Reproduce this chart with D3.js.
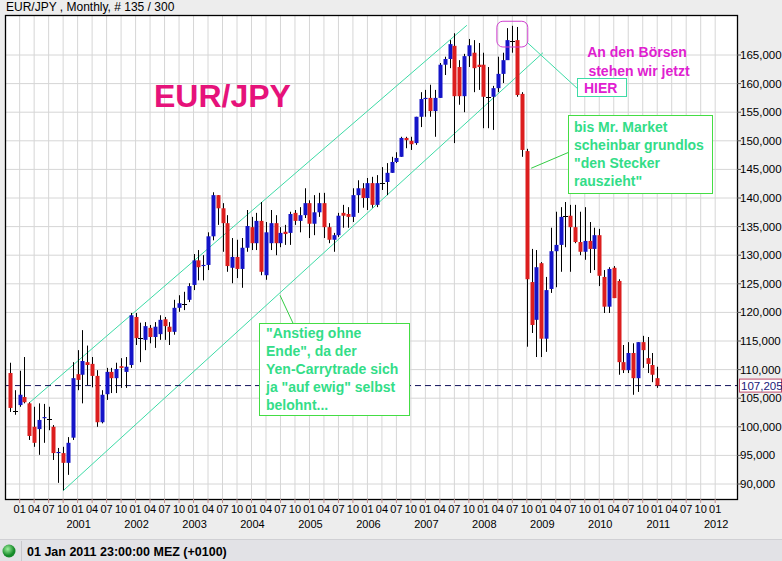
<!DOCTYPE html>
<html><head><meta charset="utf-8">
<script src="https://cdn.jsdelivr.net/npm/d3@7/dist/d3.min.js"></script>
<style>body{margin:0;background:#ececec;}svg{display:block;font-family:"Liberation Sans",Arial,sans-serif;}</style>
</head><body>
<svg id="c" width="782" height="561"></svg>
<script>
// Monthly bars, first bar = Nov 1999, last = Jan 2011
const startYear = 1999, startMonth = 10; // 0-based month (Nov)
const openV = [109.4,102.9,103.8,105.2,104.1,100.0,99.6,101.5,101.5,100.0,95.4,95.4,93.7,
98.1,109.2,109.1,111.3,111.0,108.9,100.8,105.7,109.6,108.5,110.6,109.6,
110.8,119.2,115.4,115.2,117.3,115.7,116.2,118.8,117.5,116.6,120.8,121.6,
122.2,124.8,129.1,128.1,128.3,133.3,140.5,138.2,135.6,127.8,129.7,127.6,
131.3,134.9,132.1,136.0,126.5,132.1,135.6,132.1,134.1,133.9,137.4,136.0,
137.0,139.1,135.5,137.5,139.1,134.9,132.7,133.5,137.4,137.2,136.7,140.5,
141.7,140.0,142.6,138.8,142.8,142.8,144.4,146.3,147.2,150.5,150.0,149.6,
154.2,157.3,157.5,155.2,157.5,163.3,164.3,166.6,162.9,157.8,164.8,165.4,
163.3,163.3,157.8,157.7,159.2,161.7,164.1,167.6,167.6,158.2,148.2,125.3,
118.7,128.6,115.4,124.1,130.7,131.8,136.9,136.9,134.9,132.3,130.6,132.5,
131.1,133.5,126.2,121.0,127.8,125.5,111.3,109.9,112.9,108.5,114.8,112.0,
110.8,108.5];
const highV = [111.2,106.4,109.8,112.2,104.3,103.5,104.1,104.0,103.5,100.3,96.3,96.5,98.2,
111.3,113.4,116.9,114.2,112.2,109.9,106.4,110.3,110.3,111.2,112.0,112.2,
119.9,119.9,118.2,118.3,117.8,118.3,119.5,119.2,118.3,122.2,123.0,123.6,
125.1,130.2,130.9,130.0,134.0,141.0,140.5,139.1,137.0,133.0,132.7,133.0,
137.9,136.7,137.4,139.3,135.8,137.9,137.0,134.9,135.3,137.6,137.9,138.4,
141.7,139.6,140.5,140.9,140.9,135.6,133.9,137.4,138.8,138.4,141.7,143.1,
142.6,143.5,143.7,144.0,145.4,146.1,147.2,148.0,150.7,150.7,150.7,154.2,
158.5,158.9,159.8,158.9,163.6,164.7,167.6,168.8,164.1,165.2,167.8,167.6,
167.1,165.4,162.9,159.6,164.7,165.4,169.7,170.1,169.9,158.5,148.6,131.1,
130.9,128.8,126.2,134.8,137.6,138.4,139.3,138.8,138.8,137.6,138.4,135.8,
134.8,134.6,127.4,127.9,128.1,125.8,114.3,114.8,114.6,114.8,115.9,115.7,
112.9,110.5];
const lowV = [102.6,102.1,103.5,104.1,97.7,96.5,95.1,97.2,99.4,94.2,90.2,88.9,91.6,
97.7,106.4,104.1,107.3,106.9,100.0,100.6,104.7,105.9,105.9,106.8,106.8,
110.3,114.3,111.3,113.4,114.6,113.8,115.2,115.2,114.3,116.1,120.1,120.4,
121.8,123.9,125.6,125.6,127.4,132.6,135.3,130.6,127.1,125.1,126.0,124.3,
130.6,130.9,130.9,126.5,125.7,130.9,130.0,131.4,131.8,131.8,135.3,134.0,
136.5,133.0,133.5,136.7,133.0,132.1,130.6,133.2,134.8,134.8,135.8,137.4,
138.3,137.9,138.3,138.4,141.4,140.5,144.4,146.1,147.2,148.7,148.4,149.3,
152.4,154.2,154.2,150.7,157.5,161.5,162.7,149.6,156.3,155.0,162.9,158.5,
158.9,152.2,152.2,151.9,158.5,160.1,165.0,165.4,157.7,147.2,114.0,116.4,
112.2,112.2,113.1,123.4,124.4,127.1,131.4,127.1,132.1,130.0,129.2,126.9,
127.4,124.6,119.9,119.9,122.5,109.1,109.4,109.4,105.6,106.1,110.3,109.4,
107.8,106.8];
const closeV = [103.3,102.8,105.6,104.3,98.4,97.2,101.2,101.7,101.4,95.4,95.6,93.7,97.2,
108.5,108.2,111.5,110.8,108.9,100.8,105.6,109.6,108.5,110.1,110.3,110.5,
119.5,115.5,115.5,117.6,115.7,117.5,118.7,117.6,116.6,120.8,121.6,121.5,
124.6,129.1,127.9,128.3,133.3,140.5,138.2,135.6,128.1,129.7,127.6,131.3,
135.1,132.1,136.0,127.1,134.0,135.6,132.1,133.9,133.7,137.2,136.0,137.0,
139.1,135.5,137.5,139.1,134.9,132.7,133.5,136.9,136.9,136.7,140.5,141.7,
140.0,142.6,138.8,142.6,142.7,144.4,146.3,147.0,150.5,150.1,149.4,154.2,
157.3,157.5,155.2,157.5,163.3,164.3,166.9,157.8,157.8,164.8,166.7,162.7,
162.9,157.7,157.7,159.2,161.7,164.1,167.6,167.5,158.0,148.4,125.8,117.8,
127.9,115.4,123.9,130.7,131.8,136.7,136.8,134.9,132.3,130.6,132.5,131.1,
133.5,126.4,121.0,127.6,122.5,111.3,109.9,112.9,108.5,114.8,113.4,111.0,
109.1,107.205];
const yTicks = [90,95,100,105,110,115,120,125,130,135,140,145,150,155,160,165];
const monthLabels = ["01","04","07","10"];
const years = [2001,2002,2003,2004,2005,2006,2007,2008,2009,2010,2011,2012];
const lastPrice = 107.205;
// annotation anchors in (bar index, price)
const channelUpper = [[4.14,104.3],[94.6,170.2]];
const channelLower = [[10.97,88.8],[110.35,165.4]];
const hierPointer = [[107.2,167.1],[117.4,159.2]];
const steckerPointer = [[107.9,145.2],[115.7,148.0]];
const anstiegPointer = [[55.9,123.0],[58.6,118.1]];
const peakBox = {i0:100.8,i1:107.2,v0:170.9,v1:166.4};

const svg = d3.select("#c");
const L=5,T=15,R=737,B=499;
const nTotal = 146; // Nov1999 -> Jan2012
const x = d3.scaleLinear().domain([0,nTotal]).range([10,10+nTotal*4.83]);
const y = d3.scaleLinear().domain([90,165]).range([484,55]);
const deFmt = d3.formatLocale({decimal:",",thousands:".",grouping:[3],currency:["",""]}).format(".3f");

svg.append("rect").attr("width",782).attr("height",561).attr("fill","#ededed");
svg.append("text").attr("x",6).attr("y",11).attr("font-size",12).text("EUR/JPY  , Monthly, # 135 / 300");
svg.append("rect").attr("x",L).attr("y",T).attr("width",R-L).attr("height",B-T).attr("fill","#fff");

// grid
const quarterIdx = d3.range(0,nTotal+1).filter(i=>((startMonth+i)%12)%3===0);
svg.append("g").selectAll("line").data(quarterIdx).join("line")
 .attr("x1",d=>x(d)).attr("x2",d=>x(d)).attr("y1",T).attr("y2",B).attr("stroke","#d6d6d6");
svg.append("g").selectAll("line").data(yTicks).join("line")
 .attr("x1",L).attr("x2",R).attr("y1",d=>y(d)).attr("y2",d=>y(d)).attr("stroke","#d6d6d6");

// channel lines
const line = d3.line().x(d=>x(d[0])).y(d=>y(d[1]));
[channelUpper,channelLower].forEach(c=>svg.append("path").attr("d",line(c)).attr("stroke","#3ddba6").attr("fill","none"));

// dashed last price
svg.append("line").attr("x1",L).attr("x2",R).attr("y1",y(lastPrice)).attr("y2",y(lastPrice))
 .attr("stroke","#10105a").attr("stroke-dasharray","6,4");

// candles
const bars = openV.map((o,i)=>({i,o,h:highV[i],l:lowV[i],c:closeV[i]}));
const g = svg.append("g");
g.selectAll(".w").data(bars).join("line").attr("x1",d=>Math.round(x(d.i))+0.5).attr("x2",d=>Math.round(x(d.i))+0.5)
 .attr("y1",d=>y(d.h)).attr("y2",d=>y(d.l)).attr("stroke","#000");
g.selectAll(".b").data(bars.filter(d=>Math.abs(d.o-d.c)>=0.15)).join("rect")
 .attr("x",d=>Math.round(x(d.i))-1.5).attr("width",4)
 .attr("y",d=>y(Math.max(d.o,d.c))).attr("height",d=>Math.max(1,Math.abs(y(d.o)-y(d.c))))
 .attr("fill",d=>d.c>d.o?"#1414c8":"#dc1e1e");
g.selectAll(".d").data(bars.filter(d=>Math.abs(d.o-d.c)<0.15)).join("line")
 .attr("x1",d=>Math.round(x(d.i))-2).attr("x2",d=>Math.round(x(d.i))+3)
 .attr("y1",d=>Math.round(y(d.c))+0.5).attr("y2",d=>Math.round(y(d.c))+0.5).attr("stroke","#000");

// frame
svg.append("rect").attr("x",L+0.5).attr("y",T+0.5).attr("width",R-L).attr("height",B-T).attr("fill","none").attr("stroke","#000").attr("stroke-width",1.3);

// right axis
const ra = svg.append("g");
yTicks.forEach(v=>{
  ra.append("line").attr("x1",R).attr("x2",R+4).attr("y1",y(v)).attr("y2",y(v)).attr("stroke","#555");
  ra.append("text").attr("x",R+3).attr("y",y(v)+4).attr("font-size",11.5).text(deFmt(v*1000/1000).replace(/^(\d+),(\d+)$/,"$1,$2"));
});
// price box
svg.append("rect").attr("x",739.5).attr("y",y(lastPrice)-6.5).attr("width",42).attr("height",13).attr("fill","#fff").attr("stroke","#c04868");
svg.append("text").attr("x",741).attr("y",y(lastPrice)+4).attr("font-size",11.5).attr("fill","#1a1a7a").text(deFmt(lastPrice));

// bottom axis
quarterIdx.forEach(i=>{
  svg.append("line").attr("x1",x(i)).attr("x2",x(i)).attr("y1",B).attr("y2",B+4).attr("stroke","#c08a8a");
  const m=(startMonth+i)%12;
  svg.append("text").attr("x",x(i)).attr("y",513).attr("font-size",11).attr("text-anchor","middle").text(monthLabels[m/3]);
});
years.forEach(yr=>{
  const i=(yr-startYear)*12-startMonth;
  svg.append("text").attr("x",x(i)+1).attr("y",528).attr("font-size",11).attr("text-anchor","middle").text(yr);
});

// status bar
svg.append("rect").attr("x",0).attr("y",539).attr("width",782).attr("height",22).attr("fill","#e2e2e6");
svg.append("line").attr("x1",0).attr("x2",782).attr("y1",539.5).attr("y2",539.5).attr("stroke","#d0d0d4");
const grad = svg.append("defs").append("radialGradient").attr("id","gb").attr("cx","40%").attr("cy","35%");
grad.append("stop").attr("offset","0%").attr("stop-color","#9ef09e");
grad.append("stop").attr("offset","100%").attr("stop-color","#168a2a");
svg.append("circle").attr("cx",9).attr("cy",551).attr("r",6.5).attr("fill","url(#gb)");
svg.append("line").attr("x1",21.5).attr("x2",21.5).attr("y1",541).attr("y2",561).attr("stroke","#c8c8cc");
svg.append("text").attr("x",27).attr("y",556).attr("font-size",12.5).attr("font-weight","bold").text("01 Jan 2011 23:00:00  MEZ (+0100)");

// annotations
svg.append("text").attr("x",154).attr("y",107).attr("font-size",32).attr("font-weight","bold").attr("fill","#e6127a").text("EUR/JPY");
svg.append("rect").attr("x",x(peakBox.i0)).attr("y",y(peakBox.v0)).attr("width",x(peakBox.i1)-x(peakBox.i0)).attr("height",y(peakBox.v1)-y(peakBox.v0))
 .attr("rx",6).attr("fill","none").attr("stroke","#d040d0");
svg.append("path").attr("d",line(hierPointer)).attr("stroke","#3ddba6").attr("fill","none");
svg.append("text").attr("x",637).attr("y",57).attr("text-anchor","middle").attr("font-size",14).attr("font-weight","bold").attr("fill","#e020d0").text("An den Börsen");
svg.append("text").attr("x",639).attr("y",76).attr("text-anchor","middle").attr("font-size",14).attr("font-weight","bold").attr("fill","#e020d0").text("stehen wir jetzt");
svg.append("rect").attr("x",577.5).attr("y",78.5).attr("width",49).attr("height",18).attr("fill","#fff").attr("stroke","#3ddba6");
svg.append("text").attr("x",584).attr("y",93).attr("font-size",14).attr("font-weight","bold").attr("fill","#e020d0").text("HIER");

svg.append("path").attr("d",line(steckerPointer)).attr("stroke","#33cc44").attr("fill","none");
svg.append("rect").attr("x",568.5).attr("y",115.5).attr("width",144).attr("height",78).attr("fill","#fff").attr("stroke","#44dd44");
["bis Mr. Market","scheinbar grundlos","\"den Stecker","rauszieht\""].forEach((t,k)=>
  svg.append("text").attr("x",574).attr("y",132+k*18).attr("font-size",14).attr("font-weight","bold").attr("fill","#33dd88").text(t));

svg.append("path").attr("d",line(anstiegPointer)).attr("stroke","#33cc44").attr("fill","none");
svg.append("rect").attr("x",259.5).attr("y",323.5).attr("width",150).attr("height",92).attr("fill","#fff").attr("stroke","#44dd44");
["\"Anstieg ohne","Ende\", da der","Yen-Carrytrade sich","ja \"auf ewig\" selbst","belohnt..."].forEach((t,k)=>
  svg.append("text").attr("x",266).attr("y",338+k*18).attr("font-size",14).attr("font-weight","bold").attr("fill","#33dd88").text(t));
</script>
</body></html>
